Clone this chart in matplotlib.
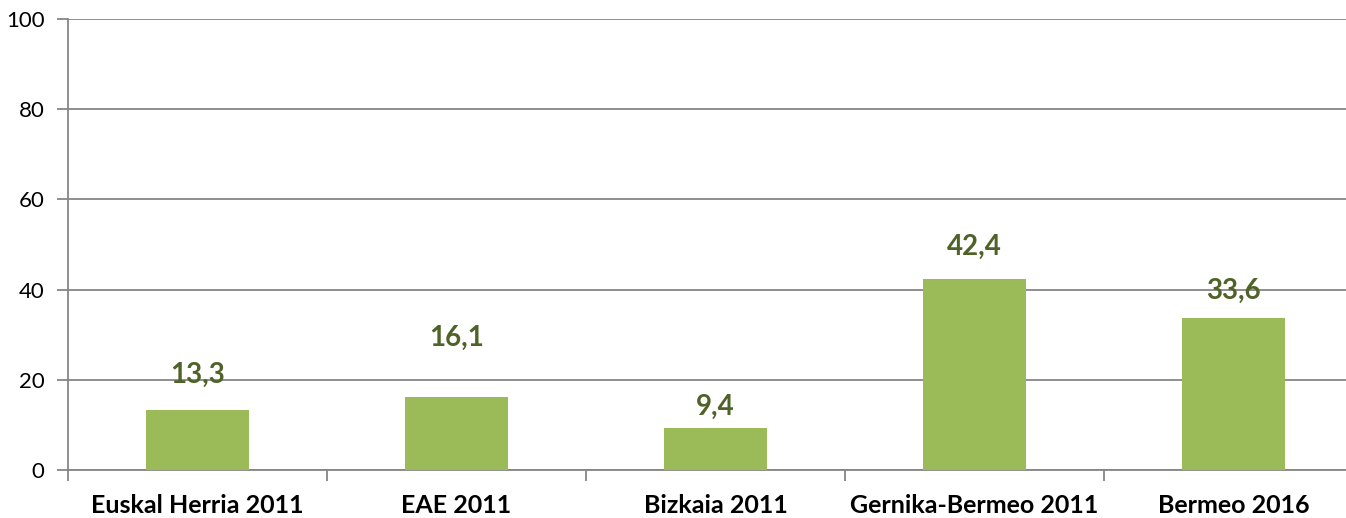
#!/usr/bin/env python3
"""
Bar chart: share by area (Euskal Herria, EAE, Bizkaia, Gernika-Bermeo, Bermeo).
"""

import matplotlib.pyplot as plt
from matplotlib.ticker import FixedLocator

categories = ['Euskal Herria 2011', 'EAE 2011', 'Bizkaia 2011',
              'Gernika-Bermeo 2011', 'Bermeo 2016']
values = [13.3, 16.1, 9.4, 42.4, 33.6]
labels = ['13,3', '16,1', '9,4', '42,4', '33,6']

# label lift above each bar top, in points (the source places them unevenly)
label_lift = [25, 43, 15, 23, 20]

BAR_COLOR = '#9BBB59'
LABEL_COLOR = '#4F6228'
GRID_COLOR = '#868686'

plt.rcParams['font.family'] = ['Lato', 'DejaVu Sans']

fig = plt.figure(figsize=(13.46, 5.18), dpi=100)
# right edge runs past the picture, as in the source
ax = fig.add_axes([68 / 1346, 48 / 518, 1295 / 1346, 451 / 518])

x = list(range(len(categories)))
ax.bar(x, values, width=0.40, color=BAR_COLOR, zorder=3)

for xi, v, lab, lift in zip(x, values, labels, label_lift):
    ax.annotate(lab, (xi, v), xytext=(0, lift), textcoords='offset points',
                ha='center', va='center', fontsize=20, fontweight='bold',
                color=LABEL_COLOR, zorder=4)

ax.set_xlim(-0.5, len(categories) - 0.5)
ax.set_ylim(0, 100)
ax.set_yticks(range(0, 101, 20))
ax.yaxis.grid(True, color=GRID_COLOR, linewidth=1.3, zorder=0)

ax.set_xticks(x)
ax.set_xticklabels(categories, fontsize=18, fontweight='bold')
ax.tick_params(axis='x', which='major', length=0, pad=17)
ax.xaxis.set_minor_locator(FixedLocator([i - 0.5 for i in range(len(categories) + 1)]))
ax.tick_params(axis='x', which='minor', length=8, width=1.3, color=GRID_COLOR)
ax.tick_params(axis='y', length=8, width=1.3, color=GRID_COLOR, labelsize=16, pad=9)

for side in ['top', 'right']:
    ax.spines[side].set_visible(False)
for side in ['left', 'bottom']:
    ax.spines[side].set_color(GRID_COLOR)
    ax.spines[side].set_linewidth(1.3)

plt.savefig('out.png', dpi=100)
plt.close()
